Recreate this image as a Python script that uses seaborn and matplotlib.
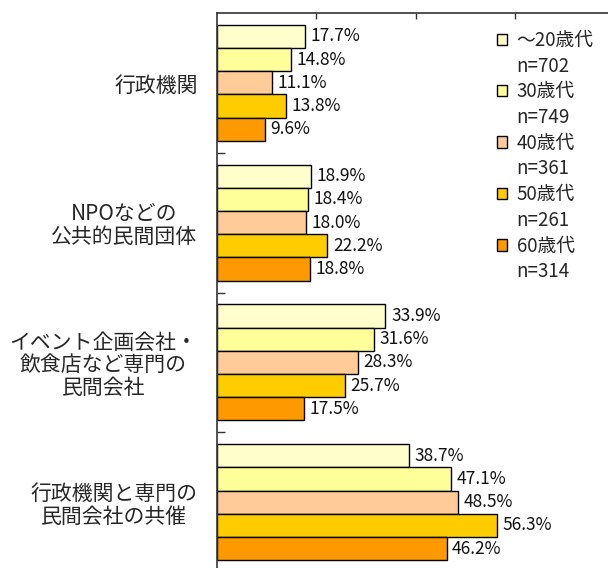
import matplotlib
matplotlib.use("Agg")
import matplotlib.pyplot as plt
import pandas as pd
import seaborn as sns
from matplotlib.patches import Patch
from matplotlib.ticker import FixedLocator

categories = [
    "行政機関",
    "NPOなどの\n公共的民間団体",
    "イベント企画会社・\n飲食店など専門の\n民間会社",
    "行政機関と専門の\n民間会社の共催",
]
series = ["～20歳代", "30歳代", "40歳代", "50歳代", "60歳代"]
n_counts = [702, 749, 361, 261, 314]
colors = ["#FFFFCC", "#FFFF99", "#FFCC99", "#FFCC00", "#FF9900"]

age_20 = [17.7, 18.9, 33.9, 38.7]
age_30 = [14.8, 18.4, 31.6, 47.1]
age_40 = [11.1, 18.0, 28.3, 48.5]
age_50 = [13.8, 22.2, 25.7, 56.3]
age_60 = [9.6, 18.8, 17.5, 46.2]

values = [age_20, age_30, age_40, age_50, age_60]

rows = []
for s, vals in zip(series, values):
    for c, v in zip(categories, vals):
        rows.append({"category": c, "age": s, "pct": v})
df = pd.DataFrame(rows)

sns.set_style("ticks")
plt.rcParams["font.family"] = ["Noto Sans CJK JP", "DejaVu Sans"]

fig = plt.figure(figsize=(6.08, 5.68), dpi=100)
ax = fig.add_axes([217 / 608, -4 / 568, 391 / 608, 559 / 568])

sns.barplot(
    data=df,
    y="category",
    x="pct",
    hue="age",
    order=categories,
    hue_order=series,
    palette=colors,
    orient="h",
    width=0.83,
    edgecolor="black",
    linewidth=1.0,
    saturation=1,
    legend=False,
    ax=ax,
)

for cont in ax.containers:
    ax.bar_label(cont, fmt="%.1f%%", padding=4, fontsize=12.5, color="#111111")

ax.set_xlim(0, 78.7)
ax.set_ylim(3.5, -0.5)
ax.set_xlabel("")
ax.set_ylabel("")

# spines: only left and top
for side in ["right", "bottom"]:
    ax.spines[side].set_visible(False)
for side in ["left", "top"]:
    ax.spines[side].set_color("#333333")
    ax.spines[side].set_linewidth(1.2)

ax.xaxis.set_ticks_position("top")
ax.set_xticks([20, 40, 60])
ax.set_xticklabels([])
ax.tick_params(axis="x", direction="in", length=4.5, width=1, color="#333333")

ax.set_yticks(range(len(categories)))
ax.set_yticklabels(categories, fontsize=15, linespacing=1.05)
ax.tick_params(axis="y", which="major", length=0, pad=14)
for lab in ax.get_yticklabels():
    lab.set_multialignment("center")
ax.yaxis.set_minor_locator(FixedLocator([0.5, 1.5, 2.5]))
ax.tick_params(axis="y", which="minor", direction="in", length=6, width=1, color="#333333")

handles = []
labels = []
for s, n, col in zip(series, n_counts, colors):
    handles.append(Patch(facecolor=col, edgecolor="black", linewidth=1.0))
    labels.append(s)
    handles.append(Patch(facecolor="none", edgecolor="none"))
    labels.append(f"n={n}")

fig.legend(
    handles,
    labels,
    loc="upper left",
    bbox_to_anchor=(497 / 608, 1 - 30 / 568),
    bbox_transform=fig.transFigure,
    frameon=False,
    fontsize=13.5,
    handlelength=0.55,
    handleheight=0.55,
    handletextpad=0.5,
    labelspacing=0.25,
    borderpad=0,
    borderaxespad=0,
)

plt.savefig("out.png", dpi=100)
plt.close("all")
